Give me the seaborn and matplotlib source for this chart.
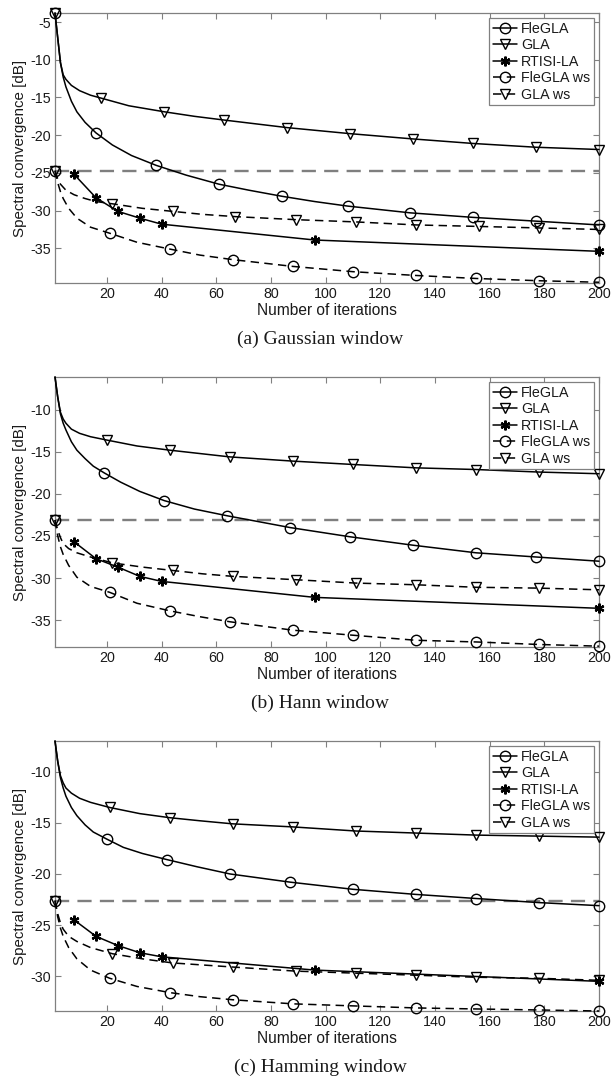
import matplotlib
matplotlib.use("Agg")
import matplotlib.pyplot as plt
from matplotlib.ticker import FixedLocator
import pandas as pd
import seaborn as sns

# ---------------- data ----------------
ITER_TICKS = [20, 40, 60, 80, 100, 120, 140, 160, 180, 200]
SERIES = ["FleGLA", "GLA", "RTISI-LA", "FleGLA ws", "GLA ws"]
CAPTIONS = ["(a) Gaussian window", "(b) Hann window", "(c) Hamming window"]
X_LABEL = "Number of iterations"
Y_LABEL = "Spectral convergence [dB]"

# --- (a) Gaussian window
gau_ref = -24.7
gau_ylim = (-39.6, -3.8)
gau_fle_x = [1, 2, 3, 4, 5, 7, 9, 12, 16, 22, 29, 38, 49, 61, 72, 84, 96, 108, 131, 154, 177, 200]
gau_fle_y = [-3.8, -7.1, -10.4, -12.3, -13.6, -15.5, -16.9, -18.3, -19.7, -21.3, -22.7, -24.0, -25.3,
             -26.5, -27.3, -28.1, -28.8, -29.4, -30.3, -30.9, -31.4, -31.9]
gau_fle_mk = [1, 16, 38, 61, 84, 108, 131, 154, 177, 200]
gau_gla_x = [1, 2, 3, 4, 5, 7, 10, 14, 18, 28, 41, 52, 63, 86, 109, 132, 154, 177, 200]
gau_gla_y = [-3.8, -7.1, -10.4, -12.0, -12.6, -13.4, -14.1, -14.7, -15.1, -16.1, -16.9, -17.5, -18.0,
             -19.0, -19.8, -20.5, -21.1, -21.6, -21.9]
gau_gla_mk = [1, 18, 41, 63, 86, 109, 132, 154, 177, 200]
gau_rt_x = [8, 16, 24, 32, 40, 96, 200]
gau_rt_y = [-25.2, -28.3, -30.1, -31.0, -31.8, -33.9, -35.4]
gau_flews_x = [1, 2, 3, 4, 6, 9, 14, 21, 31, 43, 54, 66, 88, 110, 133, 155, 178, 200]
gau_flews_y = [-24.7, -26.3, -27.5, -28.4, -29.7, -31.0, -32.2, -33.0, -34.2, -35.1, -35.9, -36.5,
               -37.4, -38.1, -38.6, -39.0, -39.3, -39.5]
gau_flews_mk = [1, 21, 43, 66, 88, 110, 133, 155, 178, 200]
gau_glaws_x = [1, 2, 3, 5, 8, 12, 16, 22, 33, 44, 55, 67, 89, 111, 133, 156, 178, 200]
gau_glaws_y = [-24.7, -25.8, -26.5, -27.3, -27.9, -28.4, -28.8, -29.1, -29.7, -30.1, -30.5, -30.8,
               -31.2, -31.5, -31.9, -32.1, -32.3, -32.5]
gau_glaws_mk = [1, 22, 44, 67, 89, 111, 133, 156, 178, 200]

# --- (b) Hann window
han_ref = -23.1
han_ylim = (-38.2, -6.1)
han_fle_x = [1, 2, 3, 4, 5, 7, 9, 12, 15, 19, 25, 32, 41, 52, 64, 87, 109, 132, 155, 177, 200]
han_fle_y = [-6.1, -8.5, -10.5, -11.6, -12.4, -13.8, -14.8, -15.8, -16.7, -17.5, -18.6, -19.7, -20.8,
             -21.8, -22.6, -24.0, -25.1, -26.1, -27.0, -27.5, -28.0]
han_fle_mk = [19, 41, 64, 87, 109, 132, 155, 177, 200]
han_gla_x = [1, 2, 3, 4, 5, 7, 10, 14, 20, 31, 43, 54, 65, 88, 110, 133, 155, 178, 200]
han_gla_y = [-6.1, -8.5, -10.3, -11.1, -11.6, -12.3, -12.8, -13.2, -13.6, -14.3, -14.8, -15.2, -15.6,
             -16.1, -16.5, -16.9, -17.1, -17.4, -17.6]
han_gla_mk = [20, 43, 65, 88, 110, 133, 155, 178, 200]
han_rt_x = [8, 16, 24, 32, 40, 96, 200]
han_rt_y = [-25.7, -27.7, -28.7, -29.8, -30.4, -32.3, -33.6]
han_flews_x = [1, 2, 3, 4, 6, 9, 14, 21, 31, 43, 54, 65, 88, 110, 133, 155, 178, 200]
han_flews_y = [-23.1, -25.0, -26.3, -27.2, -28.5, -29.9, -31.0, -31.7, -33.0, -33.9, -34.6, -35.2,
               -36.2, -36.8, -37.4, -37.6, -37.9, -38.1]
han_flews_mk = [1, 21, 43, 65, 88, 110, 133, 155, 178, 200]
han_glaws_x = [1, 2, 3, 4, 6, 9, 14, 22, 33, 44, 55, 66, 89, 111, 133, 155, 178, 200]
han_glaws_y = [-23.1, -24.3, -25.2, -25.9, -26.5, -27.0, -27.5, -28.2, -28.7, -29.1, -29.5, -29.8,
               -30.2, -30.6, -30.8, -31.1, -31.2, -31.4]
han_glaws_mk = [1, 22, 44, 66, 89, 111, 133, 155, 178, 200]

# --- (c) Hamming window
ham_ref = -22.6
ham_ylim = (-33.4, -7.0)
ham_fle_x = [1, 2, 3, 4, 5, 7, 9, 12, 15, 20, 26, 33, 42, 53, 65, 87, 110, 133, 155, 178, 200]
ham_fle_y = [-7.0, -9.0, -10.6, -11.6, -12.4, -13.5, -14.3, -15.2, -15.9, -16.6, -17.4, -18.0, -18.6,
             -19.3, -20.0, -20.8, -21.5, -22.0, -22.4, -22.8, -23.1]
ham_fle_mk = [20, 42, 65, 87, 110, 133, 155, 178, 200]
ham_gla_x = [1, 2, 3, 4, 5, 7, 10, 14, 21, 32, 43, 54, 66, 88, 111, 133, 155, 178, 200]
ham_gla_y = [-7.0, -9.0, -10.4, -11.1, -11.6, -12.1, -12.6, -13.0, -13.5, -14.1, -14.5, -14.8, -15.1,
             -15.4, -15.8, -16.0, -16.2, -16.3, -16.4]
ham_gla_mk = [21, 43, 66, 88, 111, 133, 155, 178, 200]
ham_rt_x = [8, 16, 24, 32, 40, 96, 200]
ham_rt_y = [-24.5, -26.1, -27.0, -27.7, -28.1, -29.4, -30.5]
ham_flews_x = [1, 2, 3, 4, 6, 9, 14, 21, 31, 43, 54, 66, 88, 110, 133, 155, 178, 200]
ham_flews_y = [-22.6, -24.2, -25.3, -26.1, -27.2, -28.3, -29.4, -30.2, -31.0, -31.6, -32.0, -32.3,
               -32.7, -32.9, -33.1, -33.2, -33.3, -33.4]
ham_flews_mk = [1, 21, 43, 66, 88, 110, 133, 155, 178, 200]
ham_glaws_x = [1, 2, 3, 4, 6, 9, 14, 22, 33, 44, 55, 66, 89, 111, 133, 155, 178, 200]
ham_glaws_y = [-22.6, -23.9, -24.8, -25.4, -26.1, -26.6, -27.2, -27.8, -28.3, -28.7, -28.9, -29.1,
               -29.5, -29.7, -29.9, -30.1, -30.2, -30.4]
ham_glaws_mk = [1, 22, 44, 66, 89, 111, 133, 155, 178, 200]

PANELS = [
    dict(ref=gau_ref, ylim=gau_ylim, yticks=[-35, -30, -25, -20, -15, -10, -5],
         fle=(gau_fle_x, gau_fle_y, gau_fle_mk), gla=(gau_gla_x, gau_gla_y, gau_gla_mk),
         rt=(gau_rt_x, gau_rt_y, gau_rt_x), flews=(gau_flews_x, gau_flews_y, gau_flews_mk),
         glaws=(gau_glaws_x, gau_glaws_y, gau_glaws_mk)),
    dict(ref=han_ref, ylim=han_ylim, yticks=[-35, -30, -25, -20, -15, -10],
         fle=(han_fle_x, han_fle_y, han_fle_mk), gla=(han_gla_x, han_gla_y, han_gla_mk),
         rt=(han_rt_x, han_rt_y, han_rt_x), flews=(han_flews_x, han_flews_y, han_flews_mk),
         glaws=(han_glaws_x, han_glaws_y, han_glaws_mk)),
    dict(ref=ham_ref, ylim=ham_ylim, yticks=[-30, -25, -20, -15, -10],
         fle=(ham_fle_x, ham_fle_y, ham_fle_mk), gla=(ham_gla_x, ham_gla_y, ham_gla_mk),
         rt=(ham_rt_x, ham_rt_y, ham_rt_x), flews=(ham_flews_x, ham_flews_y, ham_flews_mk),
         glaws=(ham_glaws_x, ham_glaws_y, ham_glaws_mk)),
]

# ---------------- style ----------------
sns.set_theme(style="ticks")
plt.rcParams["font.family"] = ["Liberation Sans", "DejaVu Sans"]
plt.rcParams["axes.unicode_minus"] = False

SPINE = "#808080"
TXT = "#1a1a1a"
DASH = (0, (5.5, 3.5))

fig = plt.figure(figsize=(6.11, 10.76), dpi=100)
W, H = 611.0, 1076.0
ax_left, ax_right = 55, 599
tops = [13, 377, 741]
ax_h = 270

def draw(ax, data, label, ls, marker, ms, mew):
    x, y, mk = data
    df = pd.DataFrame({"x": x, "y": y})
    idx = [i for i, v in enumerate(x) if v in mk]
    sns.lineplot(data=df, x="x", y="y", ax=ax, color="black", linewidth=1.1,
                 linestyle=ls, marker=marker, markevery=idx, markersize=ms,
                 markerfacecolor="none", markeredgecolor="black", markeredgewidth=mew,
                 sort=False, estimator=None, label=label, zorder=3, clip_on=False)
    return ax.get_lines()[-1]

for k, p in enumerate(PANELS):
    top = tops[k]
    ax = fig.add_axes([ax_left / W, 1 - (top + ax_h) / H, (ax_right - ax_left) / W, ax_h / H])
    # reference level (start value of warm-started runs)
    ref_df = pd.DataFrame({"x": [1, 200], "y": [p["ref"], p["ref"]]})
    sns.lineplot(data=ref_df, x="x", y="y", ax=ax, color="#7f7f7f", linewidth=1.7,
                 linestyle=(0, (6, 3.5)), estimator=None, zorder=2, label="_ref")
    h = []
    h.append(draw(ax, p["fle"], SERIES[0], "-", "o", 7.5, 1.0))
    h.append(draw(ax, p["gla"], SERIES[1], "-", "v", 7.5, 1.0))
    h.append(draw(ax, p["rt"], SERIES[2], "-", (6, 2, 0), 7.0, 1.6))
    h.append(draw(ax, p["flews"], SERIES[3], DASH, "o", 7.5, 1.0))
    h.append(draw(ax, p["glaws"], SERIES[4], DASH, "v", 7.5, 1.0))

    ax.set_xlim(1, 200)
    ax.set_ylim(*p["ylim"])
    ax.xaxis.set_major_locator(FixedLocator(ITER_TICKS))
    ax.yaxis.set_major_locator(FixedLocator(p["yticks"]))
    ax.set_xlabel(X_LABEL, fontsize=11.2, color=TXT, labelpad=1.5)
    ax.set_ylabel(Y_LABEL, fontsize=10.9, color=TXT, labelpad=2)
    for s in ax.spines.values():
        s.set_color(SPINE)
        s.set_linewidth(0.9)
    ax.tick_params(direction="in", top=True, right=True, length=4.5, width=0.8,
                   color=SPINE, labelsize=10.3, labelcolor=TXT, pad=3)
    leg = ax.legend(handles=h, labels=SERIES, loc="upper right", fontsize=10.3,
                    frameon=True, fancybox=False, framealpha=1, edgecolor=SPINE,
                    handlelength=1.7, handletextpad=0.3, labelspacing=0.18,
                    borderpad=0.25, borderaxespad=0.35, numpoints=1)
    leg.get_frame().set_linewidth(0.9)
    leg.set_zorder(10)
    for t in leg.get_texts():
        t.set_color(TXT)
    fig.text(320 / W, 1 - (top + ax_h + 56) / H, CAPTIONS[k], ha="center", va="center",
             fontsize=14, family=["Liberation Serif", "DejaVu Serif"], color=TXT)

fig.savefig("out.png", dpi=100, facecolor="white")
